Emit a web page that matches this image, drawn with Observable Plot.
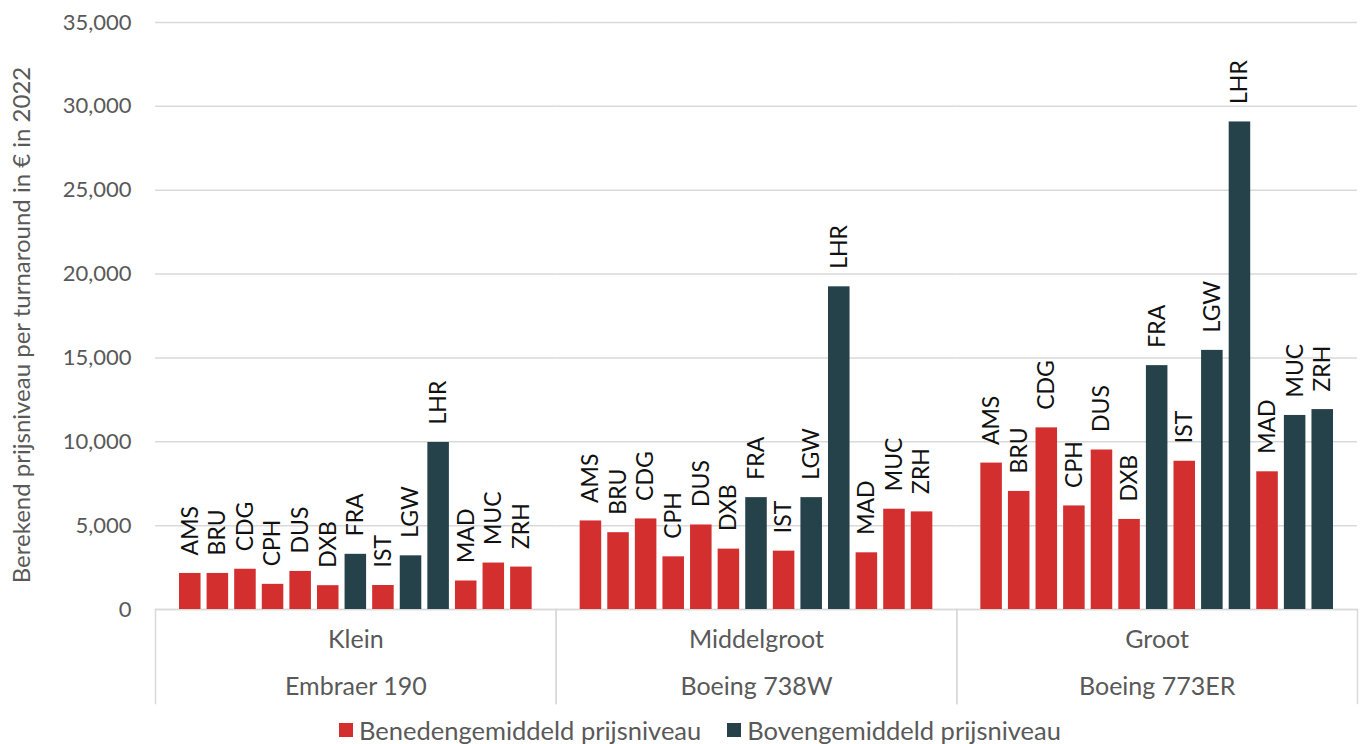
<!DOCTYPE html>
<html><head><meta charset="utf-8">
<script src="https://cdn.jsdelivr.net/npm/d3@7"></script>
<script src="https://cdn.jsdelivr.net/npm/@observablehq/plot@0.6"></script>
<style>
body{margin:0;background:#fff;font-family:Lato,sans-serif;}
#legend{display:flex;justify-content:center;align-items:center;gap:26px;height:28px;font-size:25.5px;color:#595959;padding-left:38px;}
.item{display:flex;align-items:center;}
.sw{display:inline-block;width:14px;height:14px;margin-right:6px;}
</style></head><body><div id="chart"></div><div id="legend"></div>
<script>
const sizes = ["Klein", "Middelgroot", "Groot"];
const aircraft = ["Embraer 190", "Boeing 738W", "Boeing 773ER"];
const airports = ["AMS","BRU","CDG","CPH","DUS","DXB","FRA","IST","LGW","LHR","MAD","MUC","ZRH"];
const klein = [2150,2150,2400,1500,2270,1420,3290,1430,3200,9960,1700,2770,2530];
const middelgroot = [5280,4580,5400,3140,5040,3600,6670,3480,6670,19240,3380,5980,5820];
const groot = [8730,7040,10830,6175,9510,5370,14540,8840,15450,29070,8210,11570,11920];
const aboveKlein = ["FRA","LGW","LHR"];
const aboveMiddelgroot = ["FRA","LGW","LHR"];
const aboveGroot = ["FRA","LGW","LHR","MUC","ZRH"];
const levels = ["Benedengemiddeld prijsniveau", "Bovengemiddeld prijsniveau"];
const colors = ["#d32f2f", "#25414a"];
const yTicks = [0,5000,10000,15000,20000,25000,30000,35000];
const yLabel = "Berekend prijsniveau per turnaround in € in 2022";

const values = [klein, middelgroot, groot];
const above = [aboveKlein, aboveMiddelgroot, aboveGroot];
const data = [];
sizes.forEach((s, i) => airports.forEach((a, j) => data.push({
  size: s, airport: a, value: values[i][j],
  level: above[i].includes(a) ? levels[1] : levels[0]
})));

const grey = "#595959", line = "#d9d9d9";
const plot = Plot.plot({
  width: 1362, height: 716,
  marginTop: 22, marginBottom: 107, marginLeft: 155, marginRight: 5,
  style: {fontFamily: "Lato, sans-serif", background: "#fff", overflow: "visible"},
  fx: {domain: sizes, padding: 0, round: false},
  x: {domain: airports, paddingInner: 0.22, paddingOuter: 0.87, round: false, axis: null},
  y: {domain: [0, 35000]},
  color: {domain: levels, range: colors},
  marks: [
    Plot.gridY({ticks: yTicks, stroke: line, strokeOpacity: 1, strokeWidth: 1.5}),
    Plot.axisY({ticks: yTicks, tickSize: 0, tickPadding: 24, tickFormat: d => d3.format(",")(d),
      fontSize: 22, color: grey, label: null}),
    Plot.text([{size: sizes[0], t: yLabel}], {fx: "size", text: "t", frameAnchor: "left", rotate: -90,
      textAnchor: "middle", lineAnchor: "middle", dx: -133, dy: 9, fontSize: 24, fill: grey}),
    Plot.frame({anchor: "left", stroke: line, strokeWidth: 1.5, insetTop: 587, insetBottom: -94}),
    Plot.frame({anchor: "right", stroke: line, strokeWidth: 1.5, insetTop: 587, insetBottom: -94}),
    Plot.ruleY([0], {stroke: line, strokeWidth: 1.5}),
    Plot.barY(data, {fx: "size", x: "airport", y: "value", fill: "level"}),
    Plot.text(data, {fx: "size", x: "airport", y: "value", text: "airport", rotate: -90,
      textAnchor: "start", dy: -18, fontSize: 23, fill: "#111"}),
    Plot.axisFx({anchor: "bottom", tickSize: 0, tickPadding: 21, fontSize: 25, color: grey, label: null}),
    Plot.axisFx({anchor: "bottom", tickSize: 0, tickPadding: 68, fontSize: 25, color: grey, label: null,
      tickFormat: d => aircraft[sizes.indexOf(d)]})
  ]
});
document.getElementById("chart").appendChild(plot);

const legend = document.getElementById("legend");
levels.forEach((l, i) => {
  const it = document.createElement("span");
  it.className = "item";
  it.innerHTML = `<span class="sw" style="background:${colors[i]}"></span>${l}`;
  legend.appendChild(it);
});
</script></body></html>
